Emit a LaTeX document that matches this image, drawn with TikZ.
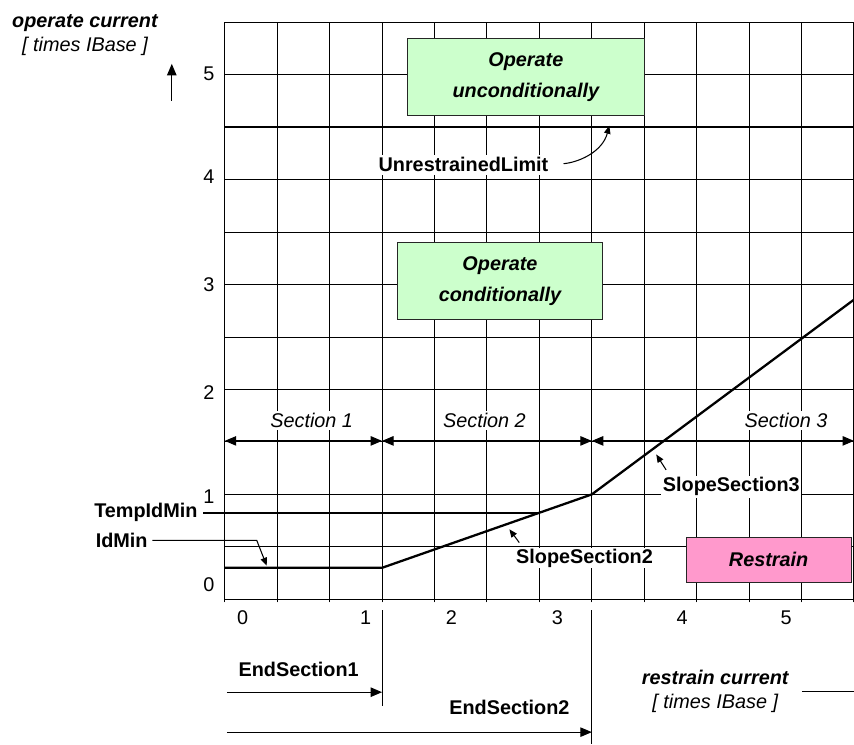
\documentclass[tikz,border=0pt]{standalone}
\usepackage{fontspec}
\setmainfont{Liberation Sans}
\usepackage{tikz}
\usetikzlibrary{
    arrows.meta,
    positioning,
    calc
}
\usepackage{xcolor}
\definecolor{zonegreen}{RGB}{204,255,204}
\definecolor{zonepink}{RGB}{255,153,204}
\newcommand{\labfont}{\fontsize{11.3}{13.7}\selectfont}
\newcommand{\boxfont}{\fontsize{11.3}{17.6}\selectfont\bfseries\itshape}

\begin{document}
\begin{tikzpicture}[x=2.1cm, y=2.1cm,
    gridline/.style={line width=0.6pt},
    charline/.style={line width=1.3pt},
    leadarrow/.style={-{Triangle[length=1.6mm,width=1.3mm]}, line width=0.6pt},
    endarrow/.style={-{Triangle[length=2.3mm,width=1.9mm]}, line width=0.6pt},
    secarrow/.style={{Triangle[length=2.3mm,width=1.9mm]}-{Triangle[length=2.3mm,width=1.9mm]}, line width=0.6pt},
    zonebox/.style={draw=black!85, line width=0.6pt, align=center, font=\boxfont},
    paramlabel/.style={font=\labfont\bfseries, inner sep=1pt}
]
\useasboundingbox (-2.143,-1.381) rectangle (6.0,5.714);

% === GRID ===
\foreach \x in {0,0.5,...,6} {\draw[gridline] (\x,-0.03) -- (\x,5.5);}
\foreach \y in {0,0.5,...,5.5} {\draw[gridline] (0,\y) -- (6,\y);}

% axis numbers
\foreach \v/\yy in {5/5.01,4/4.03,3/3.0,2/1.97,1/0.98,0/0.14} {
    \node[font=\labfont] (ylab\v) at (-0.152,\yy) {\v};
}
\foreach \v/\xx in {0/0.171,1/1.343,2/2.162,3/3.171,4/4.362,5/5.352} {
    \node[font=\labfont] (xlab\v) at (\xx,-0.176) {\v};
}

% === ZONES ===
\node[zonebox, fill=zonegreen, minimum width=4.74cm, minimum height=1.54cm] (uncond) at (2.871,4.976) {Operate\\unconditionally};
\node[zonebox, fill=zonegreen, minimum width=4.1cm, minimum height=1.54cm] (cond) at (2.624,3.033) {Operate\\conditionally};
\node[zonebox, fill=zonepink, minimum width=3.3cm, minimum height=0.9cm] (restrain) at (5.186,0.376) {Restrain};

% === UNRESTRAINED LIMIT ===
\draw[charline] (0,4.5) -- (6,4.5);
\node[paramlabel, fill=white, inner sep=1.5pt] (unrlim) at (2.276,4.143) {UnrestrainedLimit};
\coordinate (unrtip) at (3.667,4.515);
\draw[leadarrow, shorten <=7pt] (unrlim.east) to[out=5, in=-105] (unrtip);

% === SECTIONS ===
\coordinate (sec0) at (0,1.51);
\coordinate (sec1) at (1.5,1.51);
\coordinate (sec2) at (3.5,1.51);
\coordinate (sec3) at (6,1.51);
\draw[secarrow] (sec0) -- (sec1);
\draw[secarrow] (sec1) -- (sec2);
\draw[secarrow] (sec2) -- (sec3);
\node[fill=white, inner sep=1.5pt, font=\labfont\itshape] (sec1lab) at (0.829,1.705) {Section 1};
\node[fill=white, inner sep=1.5pt, font=\labfont\itshape] (sec2lab) at (2.476,1.705) {Section 2};
\node[fill=white, inner sep=1.5pt, font=\labfont\itshape] (sec3lab) at (5.352,1.705) {Section 3};

% === OPERATE CHARACTERISTIC ===
\coordinate (knee1) at (1.5,0.3);
\coordinate (knee2) at (3.5,1.0);
\coordinate (curveend) at (6,2.857);
\draw[charline] (0,0.3) -- (knee1) -- (knee2) -- (curveend);

% TempIdMin
\node[paramlabel, anchor=east] (tempidmin) at (-0.24,0.825) {TempIdMin};
\coordinate (tempend) at (3,0.825);
\draw[charline, shorten <=2pt] (tempidmin.east) -- (tempend);

% IdMin
\node[paramlabel, anchor=east] (idmin) at (-0.716,0.562) {IdMin};
\coordinate (idminbend) at (0.305,0.562);
\coordinate (idmintip) at (0.4,0.32);
\draw[leadarrow, shorten <=1.5pt] (idmin.east) -- (idminbend) -- (idmintip);

% slopes
\node[paramlabel, fill=white, inner ysep=0.5pt] (slope2) at (3.43,0.39) {SlopeSection2};
\coordinate (s2tip) at (2.714,0.667);
\draw[leadarrow] ([shift={(3pt,3pt)}]slope2.north west) -- (s2tip);

\node[paramlabel, fill=white] (slope3) at (4.83,1.075) {SlopeSection3};
\coordinate (s3tip) at (4.114,1.381);
\draw[leadarrow] ([shift={(3pt,3pt)}]slope3.north west) -- (s3tip);

% === END SECTIONS ===
\coordinate (end1top) at (1.5,-0.105);
\coordinate (end1bot) at (1.5,-1.019);
\coordinate (end2top) at (3.5,-0.105);
\coordinate (end2bot) at (3.5,-1.381);
\draw[gridline] (end1top) -- (end1bot);
\draw[gridline] (end2top) -- (end2bot);

\coordinate (e1start) at (0.02,-0.886);
\coordinate (e2start) at (0.02,-1.267);
\draw[endarrow] (e1start) -- (end1top |- e1start);
\draw[endarrow] (e2start) -- (end2top |- e2start);
\node[paramlabel] (endsec1) at (0.705,-0.667) {EndSection1};
\node[paramlabel] (endsec2) at (2.714,-1.029) {EndSection2};

% === AXIS TITLES ===
\node[align=center, font=\labfont\itshape] (oaxis) at (-1.333,5.381) {\textbf{operate current}\\{[ times IBase ]}};
\coordinate (yarrbot) at (-0.505,4.752);
\coordinate (yarrtop) at (-0.505,5.105);
\draw[endarrow] (yarrbot) -- (yarrtop);

\node[align=center, font=\labfont\itshape] (raxis) at (4.677,-0.876) {\textbf{restrain current}\\{[ times IBase ]}};
\coordinate (raxisend) at (6,0);
\draw[gridline, shorten <=4pt] (raxis.east) -- (raxis.east -| raxisend);

\end{tikzpicture}
\end{document}
